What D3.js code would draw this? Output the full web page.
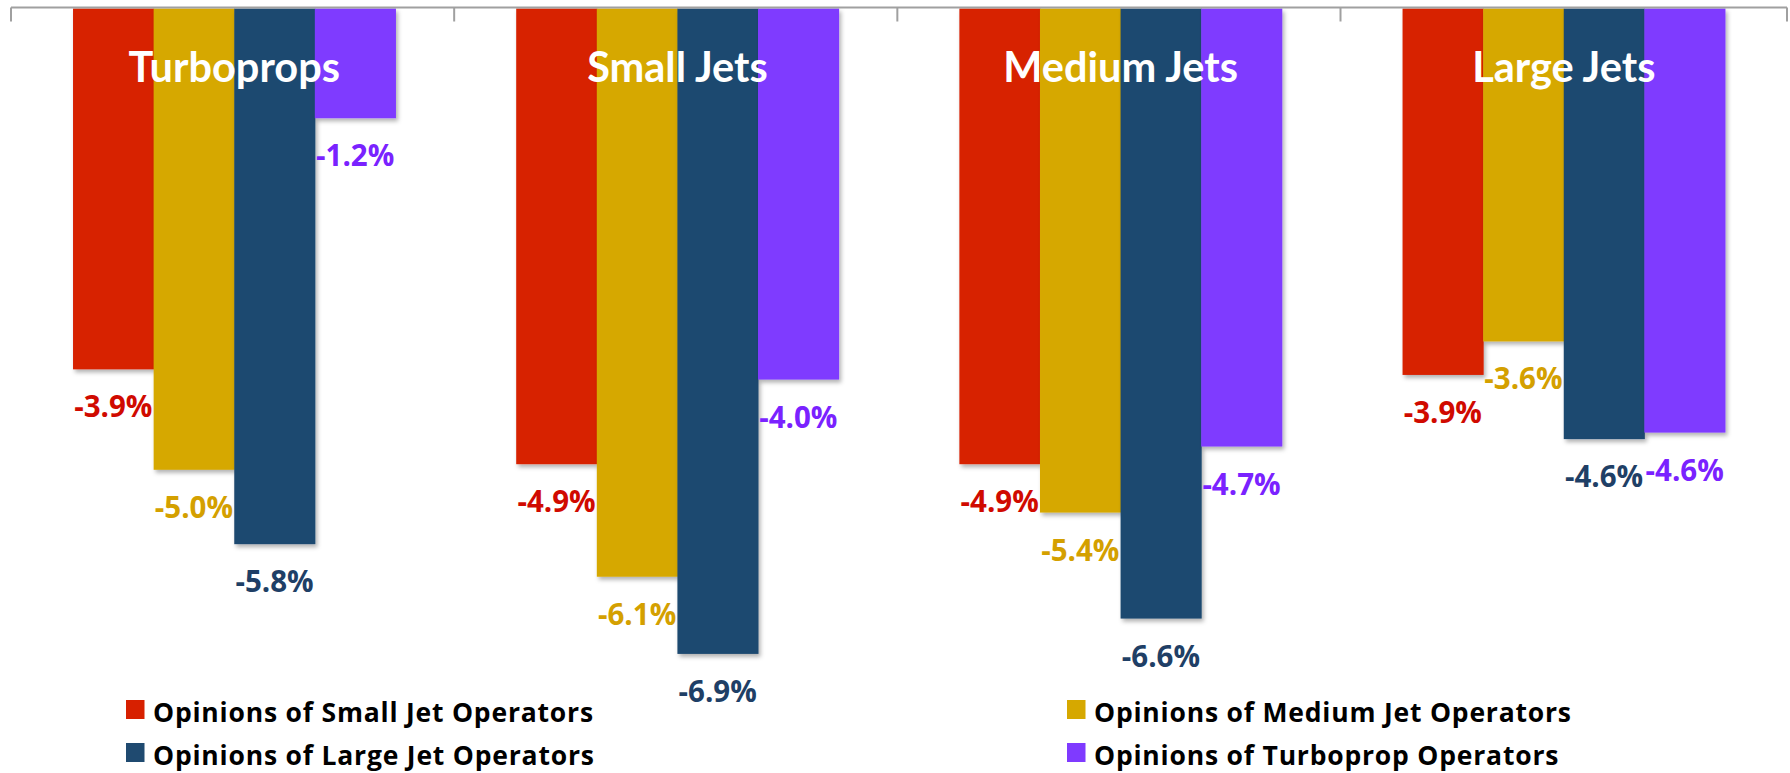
<!DOCTYPE html>
<html>
<head>
<meta charset="utf-8">
<script src="https://cdn.jsdelivr.net/npm/d3@7"></script>
<style>
  html, body { margin: 0; padding: 0; background: #ffffff; }
  svg { display: block; }
</style>
</head>
<body>
<svg id="chart" width="1790" height="773"></svg>
<script>
// ---- Data ----
const categories = ["Turboprops", "Small Jets", "Medium Jets", "Large Jets"];
const seriesNames = [
  "Opinions of Small Jet Operators",
  "Opinions of Medium Jet Operators",
  "Opinions of Large Jet Operators",
  "Opinions of Turboprop Operators"
];
// values in percent, one array per series, ordered like categories
const smallJetOps   = [-3.88, -4.90, -4.90, -3.94];
const mediumJetOps  = [-4.96, -6.11, -5.42, -3.58];
const largeJetOps   = [-5.76, -6.94, -6.56, -4.63];
const turbopropOps  = [-1.18, -3.99, -4.71, -4.56];
const seriesValues = [smallJetOps, mediumJetOps, largeJetOps, turbopropOps];
const barColors   = ["#D72000", "#D6A800", "#1F4A70", "#7F3AFF"];
const labelColors = ["#D00A00", "#D4A000", "#1F3F66", "#7A22FF"];

// ---- Layout ----
const svg = d3.select("#chart");
const CAT_FONT = "Lato, 'Open Sans', sans-serif";
const LBL_FONT = "'Open Sans', Lato, sans-serif";
const zeroY = 8.5;

const x0 = d3.scaleBand().domain(categories).range([11, 1787])
  .paddingInner(0.2725).paddingOuter(0.14);
const x1 = d3.scaleBand().domain(d3.range(seriesNames.length)).range([0, x0.bandwidth()]);
const y = d3.scaleLinear().domain([0, -7]).range([zeroY, zeroY + 7 * 93]);

const defs = svg.append("defs");
const f = defs.append("filter").attr("id", "shadow")
  .attr("x", "-10%").attr("y", "-10%").attr("width", "130%").attr("height", "130%");
f.append("feDropShadow").attr("dx", 2).attr("dy", 3).attr("stdDeviation", 2.2)
  .attr("flood-color", "#000").attr("flood-opacity", 0.3);

const data = [];
categories.forEach((c, ci) => {
  seriesValues.forEach((arr, si) => data.push({ cat: c, s: si, v: arr[ci] }));
});

// bars
svg.append("g").selectAll("rect").data(data).join("rect")
  .attr("x", d => x0(d.cat) + x1(d.s))
  .attr("y", d => y(0))
  .attr("width", x1.bandwidth() + 0.5)
  .attr("height", d => y(d.v) - y(0))
  .attr("fill", d => barColors[d.s])
  .attr("filter", "url(#shadow)");

// axis at top (zero line) with tick marks at category boundaries
const axisG = svg.append("g").attr("transform", `translate(0,${zeroY - 1})`);
axisG.append("line").attr("x1", 11).attr("x2", 1787).attr("y1", 0).attr("y2", 0)
  .attr("stroke", "#A0A0A0").attr("stroke-width", 2);
const boundaries = categories.map((c, i) => 11 + i * x0.step()).concat([1787]);
axisG.selectAll("line.tick").data(boundaries).join("line").attr("class", "tick")
  .attr("x1", d => d).attr("x2", d => d).attr("y1", 0).attr("y2", 14)
  .attr("stroke", "#A0A0A0").attr("stroke-width", 2);

// category labels (white, over bars)
svg.append("g").selectAll("text").data(categories).join("text")
  .attr("x", d => x0(d) + x0.bandwidth() / 2)
  .attr("y", 82)
  .attr("text-anchor", "middle")
  .attr("font-family", CAT_FONT).attr("font-weight", 700).attr("font-size", 41.5)
  .attr("fill", "#ffffff")
  .text(d => d);

// data labels
svg.append("g").selectAll("text").data(data).join("text")
  .attr("x", d => x0(d.cat) + x1(d.s) + x1.bandwidth() / 2)
  .attr("y", d => y(d.v) + 48)
  .attr("text-anchor", "middle")
  .attr("font-family", LBL_FONT).attr("font-weight", 700).attr("font-size", 29.5)
  .attr("fill", d => labelColors[d.s])
  .text(d => d.v.toFixed(1) + "%");

// legend
const legendPos = [
  { x: 126, y: 722 }, { x: 1067, y: 722 },
  { x: 126, y: 765 }, { x: 1067, y: 765 }
];
const lg = svg.append("g").selectAll("g").data(seriesNames).join("g")
  .attr("transform", (d, i) => `translate(${legendPos[i].x},${legendPos[i].y})`);
lg.append("rect").attr("x", 0).attr("y", -22).attr("width", 18.5).attr("height", 19)
  .attr("fill", (d, i) => barColors[i]);
lg.append("text").attr("x", 27).attr("y", 0)
  .attr("font-family", LBL_FONT).attr("font-weight", 700).attr("font-size", 26.5)
  .attr("letter-spacing", 0.8)
  .attr("fill", "#000").text(d => d);
</script>
</body>
</html>
